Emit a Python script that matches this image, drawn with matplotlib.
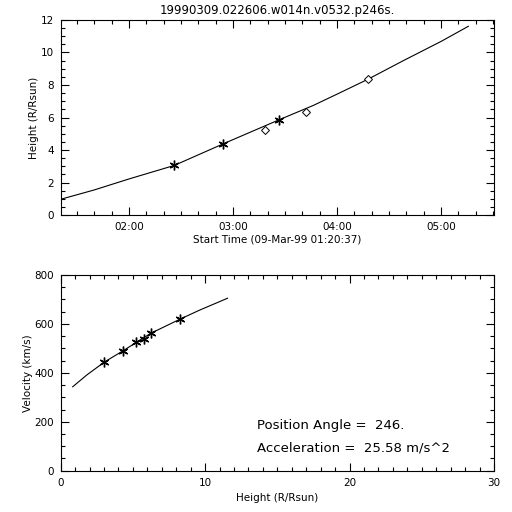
import matplotlib
matplotlib.use("Agg")
import matplotlib.pyplot as plt
import matplotlib.dates as mdates
from matplotlib.ticker import MultipleLocator
import pandas as pd

# ---------------- data ----------------
title = "19990309.022606.w014n.v0532.p246s."
xlim_times = ["1999-03-09 01:20:37", "1999-03-09 05:30:37"]

# fitted height-time curve
fit_times = ["01:20:37", "01:39:50", "02:00:00", "02:26:06", "02:54:22", "03:26:24",
             "03:46:30", "04:00:54", "04:17:49", "04:38:20", "05:00:14", "05:15:47"]
fit_heights = [0.97, 1.54, 2.22, 3.05, 4.38, 5.85, 6.75, 7.48, 8.35, 9.50, 10.69, 11.61]

# measured points: asterisks and diamonds
ast_times = ["02:26:06", "02:54:22", "03:26:24"]
ast_heights = [3.05, 4.38, 5.85]
dia_times = ["03:18:18", "03:41:56", "04:17:49"]
dia_heights = [5.22, 6.33, 8.35]

# velocity-height curve
vel_curve_h = [0.83, 1.80, 3.02, 4.31, 6.25, 8.28, 9.64, 11.55]
vel_curve_v = [343, 391, 444, 490, 562, 620, 657, 705]
vel_pts_h = [3.02, 4.31, 5.19, 5.76, 6.25, 8.28]
vel_pts_v = [444, 490, 526, 538, 562, 620]

pos_angle_text = "Position Angle =  246."
accel_text = "Acceleration =  25.58 m/s^2"

day = "1999-03-09 "
def to_dt(lst):
    return pd.to_datetime([day + t for t in lst])

# ---------------- figure ----------------
plt.rcParams['font.family'] = ['DejaVu Sans']
fig = plt.figure(figsize=(5.12, 5.12), dpi=100)
fig.patch.set_facecolor("white")

ax1 = fig.add_axes([0.1186, 0.580, 0.8463, 0.381])
ax2 = fig.add_axes([0.1186, 0.0807, 0.8463, 0.3822])

fs = 7.5
lw = 0.8

def style(ax):
    for s in ax.spines.values():
        s.set_linewidth(0.8)
    ax.tick_params(which='both', direction='in', top=True, right=True,
                   width=0.8, labelsize=fs, pad=5)
    ax.tick_params(which='major', length=5.8)
    ax.tick_params(which='minor', length=2.9)

# top panel
ax1.plot(to_dt(fit_times), fit_heights, color='black', lw=lw)
ax1.plot(to_dt(ast_times), ast_heights, ls='none', marker=(6, 2, 0),
         ms=7, mec='black', mew=1.0, color='black')
ax1.plot(to_dt(dia_times), dia_heights, ls='none', marker='D', ms=4.5,
         mfc='white', mec='black', mew=0.7)
ax1.set_xlim(pd.to_datetime(xlim_times))
ax1.set_ylim(0, 12)
ax1.xaxis.set_major_locator(mdates.HourLocator())
ax1.xaxis.set_major_formatter(mdates.DateFormatter('%H:%M'))
ax1.xaxis.set_minor_locator(mdates.MinuteLocator(byminute=[0, 10, 20, 30, 40, 50]))
ax1.yaxis.set_major_locator(MultipleLocator(2))
ax1.yaxis.set_minor_locator(MultipleLocator(0.5))
style(ax1)
ax1.set_xlabel("Start Time (09-Mar-99 01:20:37)", fontsize=fs, labelpad=2)
ax1.set_ylabel("Height (R/Rsun)", fontsize=fs, labelpad=1)
ax1.set_title(title, fontsize=8.5, pad=4)

# bottom panel
ax2.plot(vel_curve_h, vel_curve_v, color='black', lw=lw)
ax2.plot(vel_pts_h, vel_pts_v, ls='none', marker=(6, 2, 0), ms=7,
         mec='black', mew=1.0, color='black')
ax2.set_xlim(0, 30)
ax2.set_ylim(0, 800)
ax2.xaxis.set_major_locator(MultipleLocator(10))
ax2.xaxis.set_minor_locator(MultipleLocator(1))
ax2.yaxis.set_major_locator(MultipleLocator(200))
ax2.yaxis.set_minor_locator(MultipleLocator(50))
style(ax2)
ax2.set_xlabel("Height (R/Rsun)", fontsize=fs, labelpad=4)
ax2.set_ylabel("Velocity (km/s)", fontsize=fs, labelpad=1)
ax2.text(0.452, 0.230, pos_angle_text, transform=ax2.transAxes,
         fontsize=9.5, va='center', ha='left')
ax2.text(0.452, 0.1175, accel_text, transform=ax2.transAxes,
         fontsize=9.5, va='center', ha='left')

fig.savefig("out.png", dpi=100)
